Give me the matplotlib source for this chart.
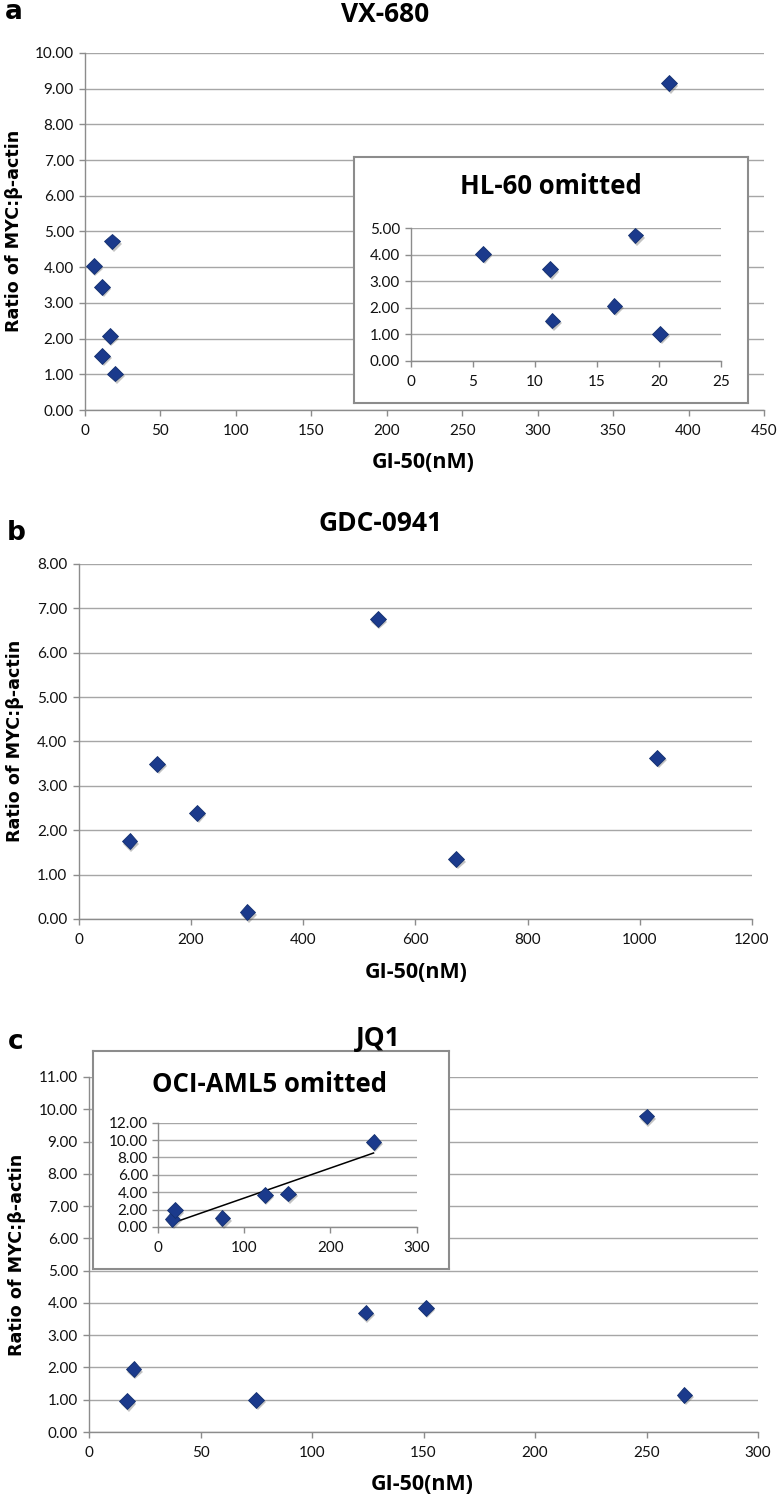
import numpy as np
import matplotlib
matplotlib.use("Agg")
import matplotlib.pyplot as plt
import matplotlib.patheffects as pe
from matplotlib.ticker import FormatStrFormatter, MultipleLocator

# ---------------- data ----------------
vx_gi50 = [5.8, 11.2, 11.4, 16.4, 18.1, 20.1, 387]
vx_ratio = [4.03, 3.45, 1.52, 2.07, 4.72, 1.02, 9.15]   # last = HL-60

gdc_gi50 = [91, 140, 211, 301, 533, 673, 1031]
gdc_ratio = [1.75, 3.50, 2.39, 0.15, 6.76, 1.35, 3.63]

jq_gi50 = [17, 20, 75, 124, 151, 250, 267]
jq_ratio = [0.95, 1.95, 1.00, 3.70, 3.85, 9.78, 1.15]   # last = OCI-AML5

titles = ["VX-680", "GDC-0941", "JQ1"]
panel_letters = ["a", "b", "c"]
inset_titles = ["HL-60 omitted", "OCI-AML5 omitted"]
ylabel = "Ratio of MYC:\u03b2-actin"
xlabel = "GI-50(nM)"

# ---------------- style ----------------
W, H = 779, 1499
fig = plt.figure(figsize=(W / 100, H / 100), dpi=100)
GRID = "#A6A6A6"
AX = "#8C8C8C"
MARK = "#1B3A8C"
TICKFONT = "Lato"
TICKSIZE = 11
BOLDFONT = "Open Sans"


def px_axes(l, t, r, b, **kw):
    return fig.add_axes([l / W, 1 - b / H, (r - l) / W, (b - t) / H], **kw)


def style(ax, xmax, xstep, ymax, ystep, ticksize=TICKSIZE):
    ax.set_xlim(0, xmax)
    ax.set_ylim(0, ymax)
    ax.xaxis.set_major_locator(MultipleLocator(xstep))
    ax.yaxis.set_major_locator(MultipleLocator(ystep))
    ax.yaxis.set_major_formatter(FormatStrFormatter("%.2f"))
    ax.xaxis.set_major_formatter(FormatStrFormatter("%d"))
    for s in ["top", "right"]:
        ax.spines[s].set_visible(False)
    for s in ["left", "bottom"]:
        ax.spines[s].set_color(AX)
        ax.spines[s].set_linewidth(1.0)
    ax.grid(axis="y", color=GRID, linewidth=1.0)
    ax.set_axisbelow(True)
    ax.tick_params(axis="both", direction="out", length=4, width=1.0,
                   color=AX, labelsize=ticksize, labelcolor="#111111")
    ax.tick_params(axis="x", pad=6)
    ax.tick_params(axis="y", pad=4)
    for lab in ax.get_xticklabels() + ax.get_yticklabels():
        lab.set_fontfamily(TICKFONT)
    ax.set_facecolor("none")


def scatter(ax, x, y, ms=8):
    ax.plot(x, y, linestyle="none", marker="D", ms=ms, color=MARK,
            markeredgecolor="#14306F", markeredgewidth=0.6, clip_on=False,
            path_effects=[pe.SimplePatchShadow(offset=(1.2, -1.8),
                                               shadow_rgbFace="#555555",
                                               alpha=0.35),
                          pe.Normal()], zorder=5)


def inset_box(l, t, r, b):
    bx = px_axes(l, t, r, b)
    bx.set_xticks([])
    bx.set_yticks([])
    bx.set_facecolor("white")
    for s in bx.spines.values():
        s.set_color("#8C8C8C")
        s.set_linewidth(1.5)
    return bx


def labels(letter, lx, ly, title, tx, ty, ylx, yly, xlx, xly):
    fig.text(lx / W, 1 - ly / H, letter, family="DejaVu Sans",
             weight="bold", fontsize=19, ha="center", va="center")
    fig.text(tx / W, 1 - ty / H, title, family=BOLDFONT, weight="bold",
             fontsize=19, ha="center", va="center")
    fig.text(ylx / W, 1 - yly / H, ylabel, family="DejaVu Sans",
             weight="bold", fontsize=12.6, rotation=90, ha="center",
             va="center")
    fig.text(xlx / W, 1 - xly / H, xlabel, family=BOLDFONT, weight="bold",
             fontsize=15.5, ha="center", va="center")


# ---------------- panel a ----------------
axa = px_axes(85, 53, 764, 410)
style(axa, 450, 50, 10, 1)
scatter(axa, vx_gi50, vx_ratio)
labels("a", 14, 12, titles[0], 385, 14, 14, 231, 423, 462)

inset_box(354, 157, 748, 403)
fig.text(551 / W, 1 - 187 / H, inset_titles[0], family=BOLDFONT,
         weight="bold", fontsize=18.5, ha="center", va="center")
ia = px_axes(411, 228, 721, 361)
style(ia, 25, 5, 5, 1)
scatter(ia, vx_gi50[:-1], vx_ratio[:-1])

# ---------------- panel b ----------------
axb = px_axes(78.5, 564, 752, 919)
style(axb, 1200, 200, 8, 1)
scatter(axb, gdc_gi50, gdc_ratio)
labels("b", 16, 533, titles[1], 381, 523, 15, 741, 416, 972)

# ---------------- panel c ----------------
axc = px_axes(89, 1077, 758, 1432)
style(axc, 300, 50, 11, 1)
scatter(axc, jq_gi50, jq_ratio)
labels("c", 16, 1042, titles[2], 378, 1038, 17, 1255, 422, 1485)

inset_box(93, 1051, 449, 1269)
fig.text(270 / W, 1 - 1084 / H, inset_titles[1], family=BOLDFONT,
         weight="bold", fontsize=18.5, ha="center", va="center")
ic = px_axes(157.7, 1122.7, 416.7, 1227)
style(ic, 300, 100, 12, 2)
ic.tick_params(axis="y", pad=3)
scatter(ic, jq_gi50[:-1], jq_ratio[:-1])
xi = np.array(jq_gi50[:-1], dtype=float)
yi = np.array(jq_ratio[:-1], dtype=float)
slope, icpt = np.polyfit(xi, yi, 1)
xl = np.array([xi.min(), xi.max()])
ic.plot(xl, slope * xl + icpt, color="black", linewidth=1.1, zorder=4)

fig.savefig("out.png", dpi=100, facecolor="white")
